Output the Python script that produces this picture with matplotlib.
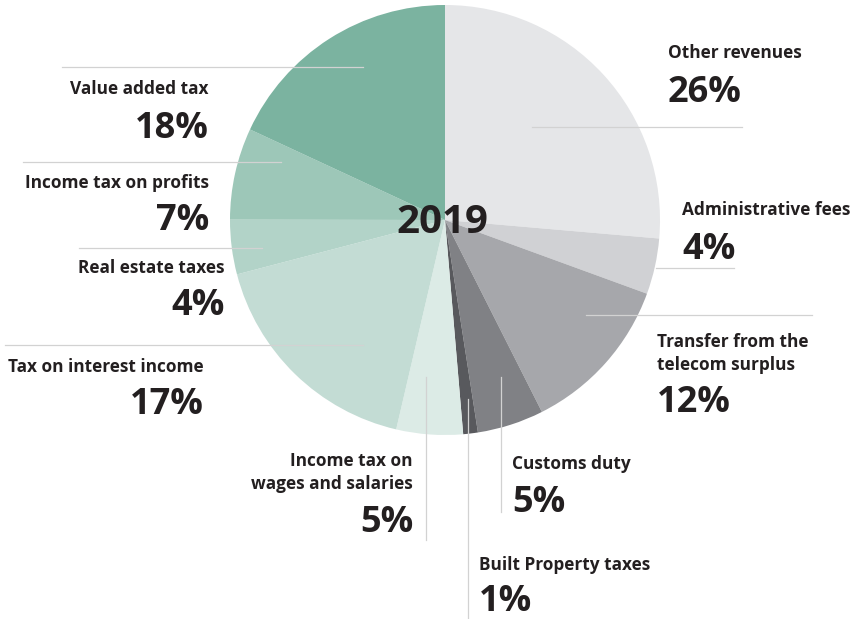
import matplotlib
matplotlib.use("Agg")
from matplotlib import pyplot as plt

# shares (percent), clockwise from 12 o'clock
names = ["Other revenues", "Administrative fees", "Transfer from the\ntelecom surplus",
         "Customs duty", "Built Property taxes", "Income tax on\nwages and salaries",
         "Tax on interest income", "Real estate taxes", "Income tax on profits",
         "Value added tax"]
shares = [26.4, 4.2, 12.0, 5.0, 1.1, 5.0, 17.3, 4.1, 6.9, 18.1]
colors = ["#e5e6e8", "#d0d1d4", "#a6a7ab", "#808185", "#58595d",
          "#dcebe6", "#c3dcd4", "#b2d3c8", "#9dc7b8", "#7bb3a0"]
year = "2019"

# label placement in pixels (y measured from the top)
# (name x, baseline of last name line, pct baseline, alignment)
label_pos = [(668, 58, 102, "left"), (682, 215, 259, "left"), (657, 370, 412, "left"),
             (512, 469, 512, "left"), (479, 570, 611, "left"), (413, 489, 532, "right"),
             (204, 372, 414, "right"), (225, 273, 315, "right"), (209, 188, 230, "right"),
             (209, 94, 138, "right")]
# leader lines (x0, y0, x1, y1)
leaders = [(532, 127, 742, 127), (656, 268, 734, 268), (586, 315, 812, 315),
           (501, 377, 501, 512), (468, 399, 468, 619), (426, 377, 426, 540),
           (5, 345, 363, 345), (79, 248, 262, 248), (23, 162, 281, 162),
           (62, 67, 363, 67)]

W, H = 858, 619
fig = plt.figure(figsize=(W / 100, H / 100), dpi=100)
ax = fig.add_axes([0, 0, 1, 1])

ax.pie(shares, colors=colors, center=(445, 220), radius=215,
       startangle=-90, counterclock=True,
       wedgeprops=dict(linewidth=0))
ax.set_xlim(0, W)
ax.set_ylim(H, 0)
ax.set_aspect("equal")
ax.axis("off")

for x0, y0, x1, y1 in leaders:
    ax.plot([x0, x1], [y0, y1], color="#d2d2d2", lw=0.9, zorder=3)

txt = "#231f20"
fam = "Open Sans"
for name, v, (x, yn, yp, ha) in zip(names, shares, label_pos):
    ax.text(x, yn, name, ha=ha, va="baseline", fontsize=12.4, fontweight="bold",
            color=txt, family=fam, linespacing=1.33, multialignment=ha)
    ax.text(x, yp, f"{v:.0f}%", ha=ha, va="baseline", fontsize=26,
            fontweight="bold", color=txt, family=fam)

ax.text(442, 233, year, ha="center", va="baseline", fontsize=29,
        fontweight="bold", color=txt, family=fam, zorder=4)

fig.savefig("out.png", dpi=100)
